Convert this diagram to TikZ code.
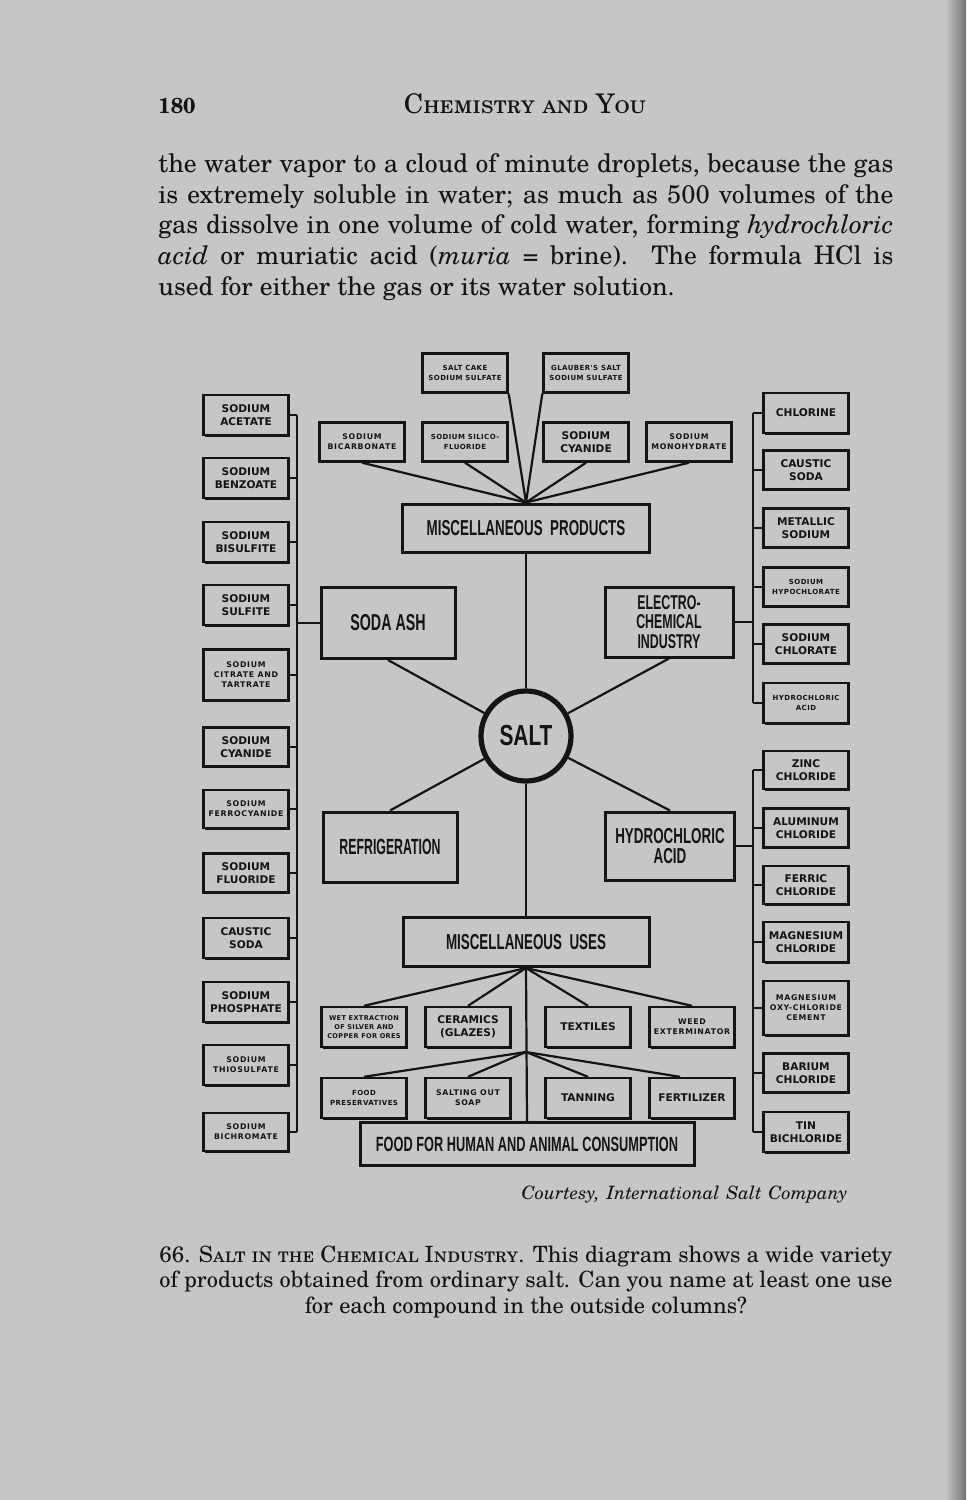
\documentclass[tikz,border=0pt]{standalone}
\usepackage{fontspec}
\setmainfont{TeX Gyre Schola}
\usetikzlibrary{shadows}
\newfontfamily\boxf{DejaVu Sans}
\newfontfamily\condf[FakeStretch=0.62]{Liberation Sans}
\newfontfamily\saltf[FakeStretch=0.72]{Liberation Sans}
\definecolor{paper}{RGB}{198,198,198}
\definecolor{ink}{RGB}{20,20,20}
\tikzset{
  bx/.style={draw=ink, line width=1.2pt, fill=paper, inner sep=0pt, align=center, text=ink,
    general shadow={fill=ink, shadow xshift=0.6pt, shadow yshift=-0.9pt}},
  bigbx/.style={bx, line width=1.5pt},
  mtx/.style={font=\boxf\bfseries\fontsize{5.3}{6.5}\selectfont},
  stx/.style={font=\boxf\bfseries\fontsize{3.9}{5}\selectfont\addfontfeature{LetterSpace=9}},
  stxn/.style={font=\boxf\bfseries\fontsize{3.5}{4.7}\selectfont\addfontfeature{LetterSpace=6}},
  big/.style={font=\condf\bfseries\fontsize{10.8}{10}\selectfont},
  ln/.style={draw=ink, line width=1.1pt},
  sb/.style={bx, minimum width=42.5pt, minimum height=19.5pt},
  ptxt/.style={inner sep=0pt, text=ink, font=\fontsize{12.8}{14}\selectfont},
  ctxt/.style={inner sep=0pt, text=ink, font=\fontsize{11.2}{13}\selectfont},
}
\begin{document}
\begin{tikzpicture}[x=0.5pt,y=-0.5pt]
\fill[paper] (0,0) rectangle (966,1500);
\useasboundingbox (0,0) rectangle (966,1500);
\shade[left color=paper, right color=black!55] (945,0) rectangle (966,1500);

% ---------- page text ----------
\node[ptxt, anchor=base west, font=\bfseries\fontsize{10.8}{14}\selectfont] (pgno) at (158,113) {180};
\node[ptxt, anchor=base, font=\fontsize{13.5}{14}\selectfont] (head) at (525,113) {\textsc{Chemistry and You}};
\node[ptxt, anchor=base west] (p1) at (158,172) {\makebox[367.5pt][s]{the water vapor to a cloud of minute droplets, because the gas}};
\node[ptxt, anchor=base west] (p2) at (158,203) {\makebox[367.5pt][s]{is extremely soluble in water; as much as 500 volumes of the}};
\node[ptxt, anchor=base west] (p3) at (158,233) {\makebox[367.5pt][s]{gas dissolve in one volume of cold water, forming \emph{hydrochloric}}};
\node[ptxt, anchor=base west] (p4) at (158,264) {\makebox[367.5pt][s]{\emph{acid} or muriatic acid (\emph{muria} = brine). The formula HCl is}};
\node[ptxt, anchor=base west] (p5) at (158,295) {used for either the gas or its water solution.};

% ---------- top products ----------
\node[sb, stxn] (scake) at (465,373) {SALT CAKE\\SODIUM SULFATE};
\node[sb, stxn] (glaub) at (586,373) {GLAUBER'S SALT\\SODIUM SULFATE};
\node[sb, stx] (bicarb) at (362,442) {SODIUM\\BICARBONATE};
\node[sb, stxn] (silico) at (465,442) {SODIUM SILICO-\\FLUORIDE};
\node[sb, mtx] (tcyan) at (586,442) {SODIUM\\CYANIDE};
\node[sb, stx] (monoh) at (689,442) {SODIUM\\MONOHYDRATE};
\node[bigbx, big, minimum width=123.5pt, minimum height=24pt] (mp) at (526,528) {MISCELLANEOUS\ \ PRODUCTS};

\draw[ln] (scake.south east) -- (mp.north);
\draw[ln] (glaub.south west) -- (mp.north);
\draw[ln] (bicarb.south) -- (mp.north);
\draw[ln] (silico.south) -- (mp.north);
\draw[ln] (tcyan.south) -- (mp.north);
\draw[ln] (monoh.south) -- (mp.north);

% ---------- centre ----------
\node[bigbx, big, font=\condf\bfseries\fontsize{11.5}{10}\selectfont, minimum width=67pt, minimum height=35.5pt] (soda) at (388,623) {SODA\ ASH};
\node[bigbx, big, font=\condf\bfseries\fontsize{10}{9.6}\selectfont, minimum width=64pt, minimum height=35pt] (elec) at (669,622) {ELECTRO-\\CHEMICAL\\INDUSTRY};
\node[bigbx, big, font=\condf\bfseries\fontsize{11}{10}\selectfont\addfontfeature{FakeStretch=0.56}, minimum width=67pt, minimum height=35pt] (refr) at (390,847) {REFRIGERATION};
\node[bigbx, big, minimum width=64.5pt, minimum height=34pt] (hydro) at (670,846) {HYDROCHLORIC\\[-0.3pt]ACID};
\node[circle, draw=ink, line width=2.6pt, fill=paper, minimum size=45pt, inner sep=0pt, text=ink,
      font=\saltf\bfseries\fontsize{14.5}{14}\selectfont] (salt) at (526,736) {SALT};

\draw[ln] (mp.south) -- (salt.north);
\draw[ln] (salt) -- (soda.south);
\draw[ln] (salt) -- (elec.south);
\draw[ln] (salt) -- (refr.north);
\draw[ln] (salt) -- (hydro.north);

% ---------- misc uses ----------
\node[bigbx, big, minimum width=123pt, minimum height=24.5pt] (mu) at (526,942) {MISCELLANEOUS\ \ USES};
\draw[ln] (salt.south) -- (mu.north);
\node[sb, font=\boxf\bfseries\fontsize{3.3}{4.4}\selectfont\addfontfeature{LetterSpace=5}, minimum height=20pt] (wet) at (364,1027) {WET EXTRACTION\\OF SILVER AND\\COPPER FOR ORES};
\node[sb, mtx, minimum height=20pt] (cera) at (468,1027) {CERAMICS\\(GLAZES)};
\node[sb, mtx, minimum height=20pt] (text) at (588,1027) {TEXTILES};
\node[sb, stx, minimum height=20pt] (weed) at (692,1027) {WEED\\EXTERMINATOR};
\node[sb, stxn, minimum height=20pt] (fpres) at (364,1098) {FOOD\\PRESERVATIVES};
\node[sb, stx, minimum height=20pt] (soap) at (468,1098) {SALTING OUT\\SOAP};
\node[sb, mtx, minimum height=20pt] (tann) at (588,1098) {TANNING};
\node[sb, mtx, minimum height=20pt] (fert) at (692,1098) {FERTILIZER};
\node[bigbx, big, font=\condf\bfseries\fontsize{10.3}{10}\selectfont, minimum width=167pt, minimum height=21.5pt] (fh) at (527,1144) {FOOD FOR HUMAN AND ANIMAL CONSUMPTION};

\coordinate (j2) at (526,1052);
\draw[ln] (mu.south) -- (fh.north);
\draw[ln] (mu.south) -- (wet.north);
\draw[ln] (mu.south) -- (cera.north);
\draw[ln] (mu.south) -- (text.north);
\draw[ln] (mu.south) -- (weed.north);
\draw[ln] (j2) -- (fpres.north);
\draw[ln] (j2) -- (soap.north);
\draw[ln] (j2) -- (tann.north);
\draw[ln] (j2) -- ([xshift=-6pt]fert.north);

% ---------- left column ----------
\coordinate (sL) at (297,0);
\node[sb, mtx, minimum height=20pt] (l1) at (246,415) {SODIUM\\ACETATE};
\node[sb, mtx, minimum height=20pt] (l2) at (246,478) {SODIUM\\BENZOATE};
\node[sb, mtx, minimum height=20pt] (l3) at (246,542) {SODIUM\\BISULFITE};
\node[sb, mtx, minimum height=20pt] (l4) at (246,605) {SODIUM\\SULFITE};
\node[sb, stx, minimum height=25.5pt] (l5) at (246,675) {SODIUM\\CITRATE AND\\TARTRATE};
\node[sb, mtx] (l6) at (246,747) {SODIUM\\CYANIDE};
\node[sb, stx, minimum height=19pt] (l7) at (246,809) {SODIUM\\FERROCYANIDE};
\node[sb, mtx] (l8) at (246,873) {SODIUM\\FLUORIDE};
\node[sb, mtx, minimum height=20pt] (l9) at (246,938) {CAUSTIC\\SODA};
\node[sb, mtx, minimum height=20pt] (l10) at (246,1002) {SODIUM\\PHOSPHATE};
\node[sb, stx, minimum height=20pt] (l11) at (246,1065) {SODIUM\\THIOSULFATE};
\node[sb, stx, minimum height=19pt] (l12) at (246,1132) {SODIUM\\BICHROMATE};
\foreach \n in {l1,l2,l3,l4,l5,l6,l7,l8,l9,l10,l11,l12}
  \draw[ln] (\n.east) -- (\n.east -| sL);
\draw[ln] (l1.east -| sL) -- (l12.east -| sL);
\draw[ln] (soda.west) -- (soda.west -| sL);

% ---------- right column ----------
\coordinate (sR) at (753,0);
\node[sb, mtx, minimum height=20pt] (r1) at (806,413) {CHLORINE};
\node[sb, mtx] (r2) at (806,470) {CAUSTIC\\SODA};
\node[sb, mtx] (r3) at (806,528) {METALLIC\\SODIUM};
\node[sb, stxn] (r4) at (806,587) {SODIUM\\HYPOCHLORATE};
\node[sb, mtx] (r5) at (806,644) {SODIUM\\CHLORATE};
\node[sb, stxn, minimum height=20pt] (r6) at (806,703) {HYDROCHLORIC\\ACID};
\foreach \n in {r1,r2,r3,r4,r5,r6}
  \draw[ln] (\n.west) -- (\n.west -| sR);
\draw[ln] (r1.west -| sR) -- (r6.west -| sR);
\draw[ln] (elec.east) -- (elec.east -| sR);

\node[sb, mtx, minimum height=19pt] (r7) at (806,770) {ZINC\\CHLORIDE};
\node[sb, mtx] (r8) at (806,828) {ALUMINUM\\CHLORIDE};
\node[sb, mtx, minimum height=19pt] (r9) at (806,885) {FERRIC\\CHLORIDE};
\node[sb, mtx, minimum height=20pt] (r10) at (806,942) {MAGNESIUM\\CHLORIDE};
\node[sb, stx, minimum height=27pt] (r11) at (806,1008) {MAGNESIUM\\OXY-CHLORIDE\\CEMENT};
\node[sb, mtx] (r12) at (806,1073) {BARIUM\\CHLORIDE};
\node[sb, mtx, minimum height=20pt] (r13) at (806,1132) {TIN\\BICHLORIDE};
\foreach \n in {r7,r8,r9,r10,r11,r12,r13}
  \draw[ln] (\n.west) -- (\n.west -| sR);
\draw[ln] (r7.west -| sR) -- (r13.west -| sR);
\draw[ln] (hydro.east) -- (hydro.east -| sR);

% ---------- caption ----------
\node[ctxt, anchor=base east, font=\fontsize{9.2}{12}\selectfont] (court) at (848,1199) {\makebox[163pt][s]{\itshape Courtesy, International Salt Company}};
\node[ctxt, anchor=base west] (c1) at (159,1262) {\makebox[366.5pt][s]{66. \textsc{Salt in the Chemical Industry}. This diagram shows a wide variety}};
\node[ctxt, anchor=base west] (c2) at (159,1287) {\makebox[366.5pt][s]{of products obtained from ordinary salt. Can you name at least one use}};
\node[ctxt, anchor=base] (c3) at (526,1313) {for each compound in the outside columns?};
\end{tikzpicture}
\end{document}
